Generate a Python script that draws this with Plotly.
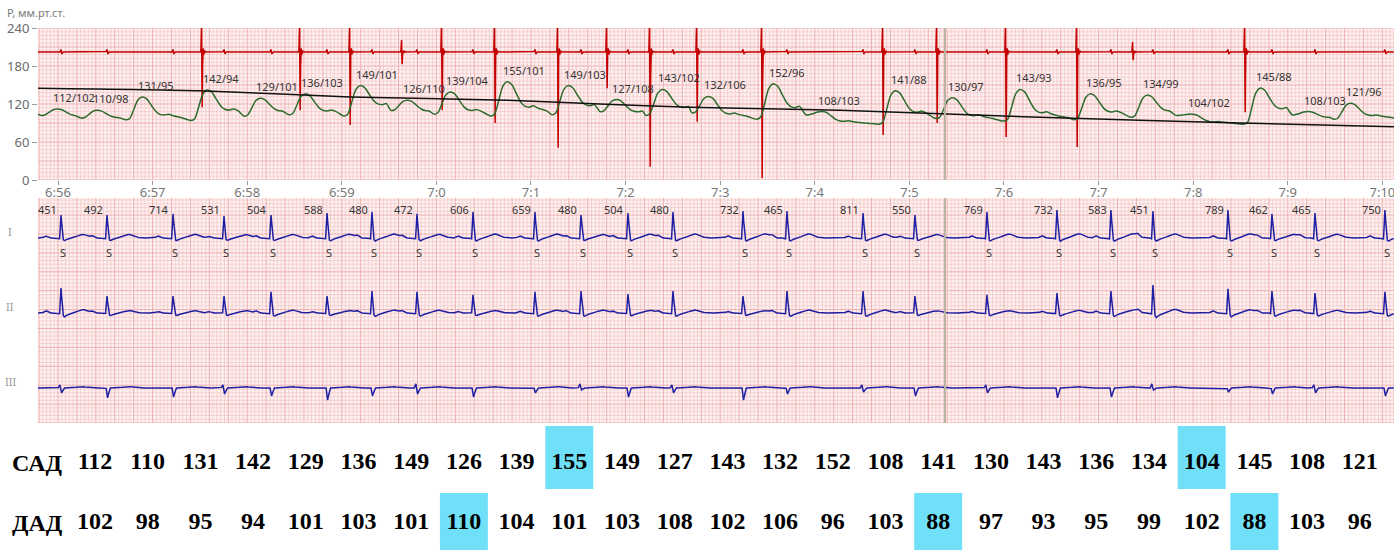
import numpy as np
import plotly.graph_objects as go

# ---------------- data ----------------
time_labels = ["6:56", "6:57", "6:58", "6:59", "7:0", "7:1", "7:2", "7:3", "7:4",
               "7:5", "7:6", "7:7", "7:8", "7:9", "7:10"]
bp_ticks = [0, 60, 120, 180, 240]

# blood pressure per beat (systolic / diastolic), time of pulse peak (s after 6:56)
sad = [112, 110, 131, 142, 129, 136, 149, 126, 139, 155, 149, 127, 143, 132, 152,
       108, 141, 130, 143, 136, 134, 104, 145, 108, 121]
dad = [102, 98, 95, 94, 101, 103, 101, 110, 104, 101, 103, 108, 102, 106, 96,
       103, 88, 97, 93, 95, 99, 102, 88, 103, 96]
bp_peak_t = [-0.011, 0.412, 0.888, 1.575, 2.135, 2.611, 3.192, 3.689, 4.144, 4.746,
             5.391, 5.899, 6.385, 6.871, 7.558, 8.076, 8.848, 9.450, 10.169, 10.909,
             11.512, 11.987, 12.706, 13.214, 13.658]
bp_start_level = 104

# black trend line
trend_t = [-0.211, 1.501, 3.087, 4.746, 5.729, 6.681, 8.266, 10.381, 12.495, 14.123]
trend_v = [145, 141, 131, 126, 120, 115, 110, 99, 90, 84]

# red ECG channel on the pressure panel
red_level = 202
spike_t = [1.522, 2.558, 3.087, 3.636, 4.059, 4.619, 5.285, 5.803, 6.258, 6.755,
           7.442, 8.721, 9.292, 10.021, 10.772, 11.364, 12.548]
spike_top = [250, 250, 250, 221, 250, 250, 250, 250, 250, 250, 250, 250, 250, 250,
             250, 218, 250]
spike_bottom = [115, 110, 87, 183, 110, 90, 51, 145, 21, 92, 3, 71, 90, 68, 52,
                189, 107]

# ECG beats: R-peak times, RR intervals, beat class
r_t = [0.032, 0.518, 1.216, 1.755, 2.252, 2.844, 3.319, 3.795, 4.387, 5.042, 5.529,
       6.025, 6.501, 7.241, 7.706, 8.510, 9.059, 9.820, 10.560, 11.131, 11.575,
       12.368, 12.833, 13.288, 14.027]
rr_ms = [451, 492, 714, 531, 504, 588, 480, 472, 606, 659, 480, 504, 480, 732, 465,
         811, 550, 769, 732, 583, 451, 789, 462, 465, 750]
beat_class = ["S"] * 25
lead_names = ["I", "II", "III"]
lead_I_amp = [0.61, 0.61, 0.64, 0.58, 0.61, 0.66, 0.69, 0.64, 0.69, 0.69, 0.61, 0.66,
              0.69, 0.71, 0.71, 0.66, 0.61, 0.69, 0.74, 0.74, 0.71, 0.74, 0.64, 0.66, 0.74]
lead_II_amp = [0.66, 0.45, 0.45, 0.45, 0.56, 0.45, 0.58, 0.56, 0.48, 0.56, 0.58, 0.50,
               0.58, 0.45, 0.58, 0.58, 0.45, 0.48, 0.53, 0.58, 0.74, 0.64, 0.58, 0.53, 0.56]
lead_III_pos = [0.08, 0, 0, 0.08, 0, 0, 0, 0.11, 0, 0, 0.11, 0, 0.08, 0, 0, 0.08, 0,
                0.08, 0, 0, 0.11, 0, 0, 0.08, 0]
lead_III_neg = [0.13, 0.26, 0.24, 0.16, 0.21, 0.32, 0.21, 0.16, 0.24, 0.13, 0.05, 0.24,
                0.13, 0.32, 0.16, 0.11, 0.21, 0.13, 0.26, 0.24, 0.05, 0.11, 0.16, 0.13, 0.21]
cursor_t = 9.376

# ---------------- geometry / styles ----------------
W, H = 1394, 555
XMIN, XMAX = -0.2114, 14.123
LEFT = 38 / W
TOP_DOM = [1 - 180 / H, 1 - 28 / H]
ECG_DOM = [1 - 423 / H, 1 - 198 / H]
ECG_TOP = 225 / 37.8 * 1.0
lead_base = [4.894, 2.910, 0.926]

BG = "#fdf2f2"
MINOR = "#f7cfcf"
MAJOR = "#efb0b0"

fig = go.Figure()


def grid_traces(y0, y1, dy, xa, ya):
    xs_mi, ys_mi, xs_ma, ys_ma = [], [], [], []
    dx = 0.04
    for k in range(int(np.ceil(XMIN / dx)), int(np.floor(XMAX / dx)) + 1):
        x = k * dx
        tx, ty = (xs_ma, ys_ma) if k % 5 == 0 else (xs_mi, ys_mi)
        tx += [x, x, None]
        ty += [y0, y1, None]
    for k in range(int(np.ceil(y0 / dy - 1e-9)), int(np.floor(y1 / dy + 1e-9)) + 1):
        y = k * dy
        tx, ty = (xs_ma, ys_ma) if k % 5 == 0 else (xs_mi, ys_mi)
        tx += [XMIN, XMAX, None]
        ty += [y, y, None]
    for xs, ys, c in ((xs_mi, ys_mi, MINOR), (xs_ma, ys_ma, MAJOR)):
        fig.add_trace(go.Scatter(x=xs, y=ys, mode="lines", line=dict(color=c, width=1),
                                 xaxis=xa, yaxis=ya, hoverinfo="skip", showlegend=False))


grid_traces(0, 240, 6, "x", "y")
grid_traces(0, ECG_TOP, 0.1, "x2", "y2")

# ---------------- red ECG channel ----------------
up_dt, up_f = [-0.012, -0.004, 0.0, 0.008, 0.014, 0.02, 0.028, 0.036], [0, 1, 0, 0, 0.12, -0.08, 0.05, 0]
dn_dt, dn_f = [-0.004, 0.002, 0.008], [0, 1, 0]
bl_dt, bl_f = [-0.012, 0.0, 0.01, 0.02], [0, 4, -3, 0]
knots = [t + d for t in spike_t for d in up_dt + dn_dt] + [t + d for t in r_t for d in bl_dt]
tt = np.union1d(np.arange(XMIN, XMAX, 0.004), np.array(knots))
tt = tt[(tt >= XMIN) & (tt <= XMAX)]
red = np.full_like(tt, float(red_level))
for t, top, bot in zip(spike_t, spike_top, spike_bottom):
    red += (top - red_level) * np.interp(tt - t, up_dt, up_f, left=0, right=0)
    red += (bot - red_level) * np.interp(tt - t, dn_dt, dn_f, left=0, right=0)
for t in r_t:
    red += np.interp(tt - t, bl_dt, bl_f, left=0, right=0)
fig.add_trace(go.Scatter(x=tt, y=red, mode="lines", line=dict(color="#c40000", width=1.5),
                         xaxis="x", yaxis="y", hoverinfo="skip", showlegend=False))

# ---------------- blood pressure waveform ----------------
pre = [(-0.17, 0.0), (-0.13, 0.06), (-0.09, 0.42), (-0.045, 0.86), (0.0, 1.0)]
post = [(0.05, 0.92), (0.10, 0.64), (0.15, 0.37), (0.19, 0.26), (0.235, 0.23),
        (0.28, 0.27), (0.33, 0.2), (0.42, 0.12), (0.52, 0.06)]
bx, by = [XMIN], [bp_start_level]
n = len(sad)
for i in range(n):
    tp, S, D = bp_peak_t[i], sad[i], dad[i]
    for dt, f in pre:
        if tp + dt > bx[-1] + 0.01:
            bx.append(tp + dt)
            by.append(D + f * (S - D))
    if i + 1 < n:
        nxt = bp_peak_t[i + 1] - 0.17
        base = dad[i + 1]
    else:
        nxt = XMAX + 0.03
        base = D
    for dt, f in post:
        if tp + dt < nxt - 0.03:
            bx.append(tp + dt)
            by.append(base + f * (S - base))
bx.append(XMAX)
by.append(by[-1] - 1)
fig.add_trace(go.Scatter(x=bx, y=by, mode="lines",
                         line=dict(color="#2d6a2d", width=1.5, shape="spline", smoothing=0.8),
                         xaxis="x", yaxis="y", hoverinfo="skip", showlegend=False))

fig.add_trace(go.Scatter(x=trend_t, y=trend_v, mode="lines",
                         line=dict(color="#111111", width=1.5, shape="spline", smoothing=0.6),
                         xaxis="x", yaxis="y", hoverinfo="skip", showlegend=False))

# ---------------- 3-lead ECG ----------------
tmpl_dt = [-0.20, -0.16, -0.12, -0.03, -0.015, 0.0, 0.02, 0.035, 0.06, 0.12, 0.19, 0.24, 0.3, 0.37]
tmpl_I = [0, 0.09, 0, 0, -0.03, 1.0, -0.06, -0.12, -0.05, 0, 0.12, 0.16, 0.05, 0]
tmpl_II = [0, 0.1, 0, 0, -0.03, 1.0, -0.08, -0.16, -0.08, -0.02, 0.1, 0.14, 0.04, 0]
p3_dt, p3_f = [-0.03, -0.012, 0.0], [0, 1, 0]
n3_dt, n3_f = [-0.01, 0.006, 0.03], [0, 1, 0]
t3_dt, t3_f = [0.1, 0.22, 0.34], [0, 1, 0]
knots = [t + d for t in r_t for d in tmpl_dt + p3_dt + n3_dt]
te = np.union1d(np.arange(XMIN, XMAX, 0.004), np.array(knots))
te = te[(te >= XMIN) & (te <= XMAX)]
leads = [np.full_like(te, lead_base[k]) for k in range(3)]
for i, t in enumerate(r_t):
    leads[0] += lead_I_amp[i] * np.interp(te - t, tmpl_dt, tmpl_I, left=0, right=0)
    leads[1] += lead_II_amp[i] * np.interp(te - t, tmpl_dt, tmpl_II, left=0, right=0)
    leads[2] += lead_III_pos[i] * np.interp(te - t, p3_dt, p3_f, left=0, right=0)
    leads[2] -= lead_III_neg[i] * np.interp(te - t, n3_dt, n3_f, left=0, right=0)
    leads[2] += 0.04 * np.interp(te - t, t3_dt, t3_f, left=0, right=0)
for k in range(3):
    fig.add_trace(go.Scatter(x=te, y=leads[k], mode="lines", line=dict(color="#1f1fa3", width=1.5),
                             xaxis="x2", yaxis="y2", hoverinfo="skip", showlegend=False))

# ---------------- table ----------------
cols = list(range(n))
row_y = {"sad": 38, "dad": 98}
box = {"sad": (1, 63), "dad": (68, 57)}
for key, vals in (("sad", sad), ("dad", dad)):
    hi = [i for i, v in enumerate(vals) if v == max(vals) or v == min(vals)]
    fig.add_trace(go.Bar(x=hi, y=[box[key][1]] * len(hi), base=[box[key][0]] * len(hi),
                         width=0.91, marker=dict(color="#70e0f8", line=dict(width=0)),
                         xaxis="x3", yaxis="y3", hoverinfo="skip", showlegend=False))
    fig.add_trace(go.Scatter(x=cols, y=[row_y[key]] * n, mode="text", text=[str(v) for v in vals],
                             textposition="middle center",
                             textfont=dict(family="Liberation Serif", size=24, color="#000000",
                                           weight="bold"),
                             xaxis="x3", yaxis="y3", hoverinfo="skip", showlegend=False))

ann = []
small = dict(family="Noto Sans", size=11, color="#333333")
for i in range(n):
    ann.append(dict(x=bp_peak_t[i], y=sad[i], xref="x", yref="y", text=f"{sad[i]}/{dad[i]}",
                    showarrow=False, xanchor="left", yanchor="bottom", xshift=-6, yshift=2,
                    font=small))
for i, t in enumerate(r_t):
    ann.append(dict(x=t, y=0.947, xref="x2", yref="y2 domain", text=str(rr_ms[i]),
                    showarrow=False, xanchor="right", yanchor="middle", xshift=-2, font=small))
    ann.append(dict(x=t, y=0.76, xref="x2", yref="y2 domain", text=beat_class[i],
                    showarrow=False, xanchor="center", yanchor="middle", xshift=2,
                    font=dict(family="Noto Sans", size=11, color="#333333")))
for k, name in enumerate(lead_names):
    ann.append(dict(x=10 / W, y=lead_base[k] + 0.16, xref="paper", yref="y2", text=name,
                    showarrow=False, xanchor="center", yanchor="middle",
                    font=dict(family="Noto Sans", size=11, color="#9a9a9a")))
ann.append(dict(x=5 / W, y=1 - 12 / H, xref="paper", yref="paper", text="P, мм.рт.ст.",
                showarrow=False, xanchor="left", yanchor="middle",
                font=dict(family="Noto Sans", size=11, color="#7a7a7a")))
for key, label in (("sad", "САД"), ("dad", "ДАД")):
    ann.append(dict(x=10 / W, y=row_y[key], xref="paper", yref="y3", text=f"<b>{label}</b>",
                    showarrow=False, xanchor="left", yanchor="middle",
                    font=dict(family="Liberation Serif", size=24, color="#000000")))

shapes = [
    dict(type="rect", xref="x domain", yref="y domain", x0=0, x1=1, y0=0, y1=1,
         fillcolor=BG, line=dict(width=0), layer="below"),
    dict(type="rect", xref="x2 domain", yref="y2 domain", x0=0, x1=1, y0=0, y1=1,
         fillcolor=BG, line=dict(width=0), layer="below"),
    dict(type="line", xref="x", yref="y domain", x0=cursor_t, x1=cursor_t, y0=0, y1=1,
         line=dict(color="#b8b3a0", width=2)),
    dict(type="line", xref="x2", yref="y2 domain", x0=cursor_t, x1=cursor_t, y0=0, y1=1,
         line=dict(color="#b8b3a0", width=2)),
]

r0 = -95 / 52.7
r1 = (W - 95) / 52.7
fig.update_layout(
    width=W, height=H, margin=dict(l=0, r=0, t=0, b=0, autoexpand=False),
    paper_bgcolor="white", plot_bgcolor="white", barmode="overlay",
    showlegend=False, annotations=ann, shapes=shapes,
    xaxis=dict(domain=[LEFT, 1], range=[XMIN, XMAX], anchor="y", automargin=False,
               tickvals=list(range(len(time_labels))), ticktext=time_labels,
               ticks="outside", ticklen=4, tickcolor="#9a9a9a", ticklabelstandoff=-4,
               ticklabeloverflow="allow",
               tickfont=dict(family="Noto Sans", size=13, color="#777777"),
               showgrid=False, zeroline=False, showline=False),
    yaxis=dict(domain=TOP_DOM, range=[0, 240], anchor="x", tickvals=bp_ticks, automargin=False,
               ticks="outside", ticklen=5, tickcolor="#9a9a9a",
               tickfont=dict(family="Noto Sans", size=13, color="#6a6a6a"),
               showgrid=False, zeroline=False, showline=False),
    xaxis2=dict(domain=[LEFT, 1], range=[XMIN, XMAX], anchor="y2", showticklabels=False,
                automargin=False, ticks="", showgrid=False, zeroline=False, showline=False),
    yaxis2=dict(domain=ECG_DOM, range=[0, ECG_TOP], anchor="x2", showticklabels=False,
                automargin=False, ticks="", showgrid=False, zeroline=False, showline=False),
    xaxis3=dict(domain=[0, 1], range=[r0, r1], anchor="y3", visible=False, automargin=False),
    yaxis3=dict(domain=[0, 130 / H], range=[130, 0], anchor="x3", visible=False, automargin=False),
)

fig.write_html("out.html")
